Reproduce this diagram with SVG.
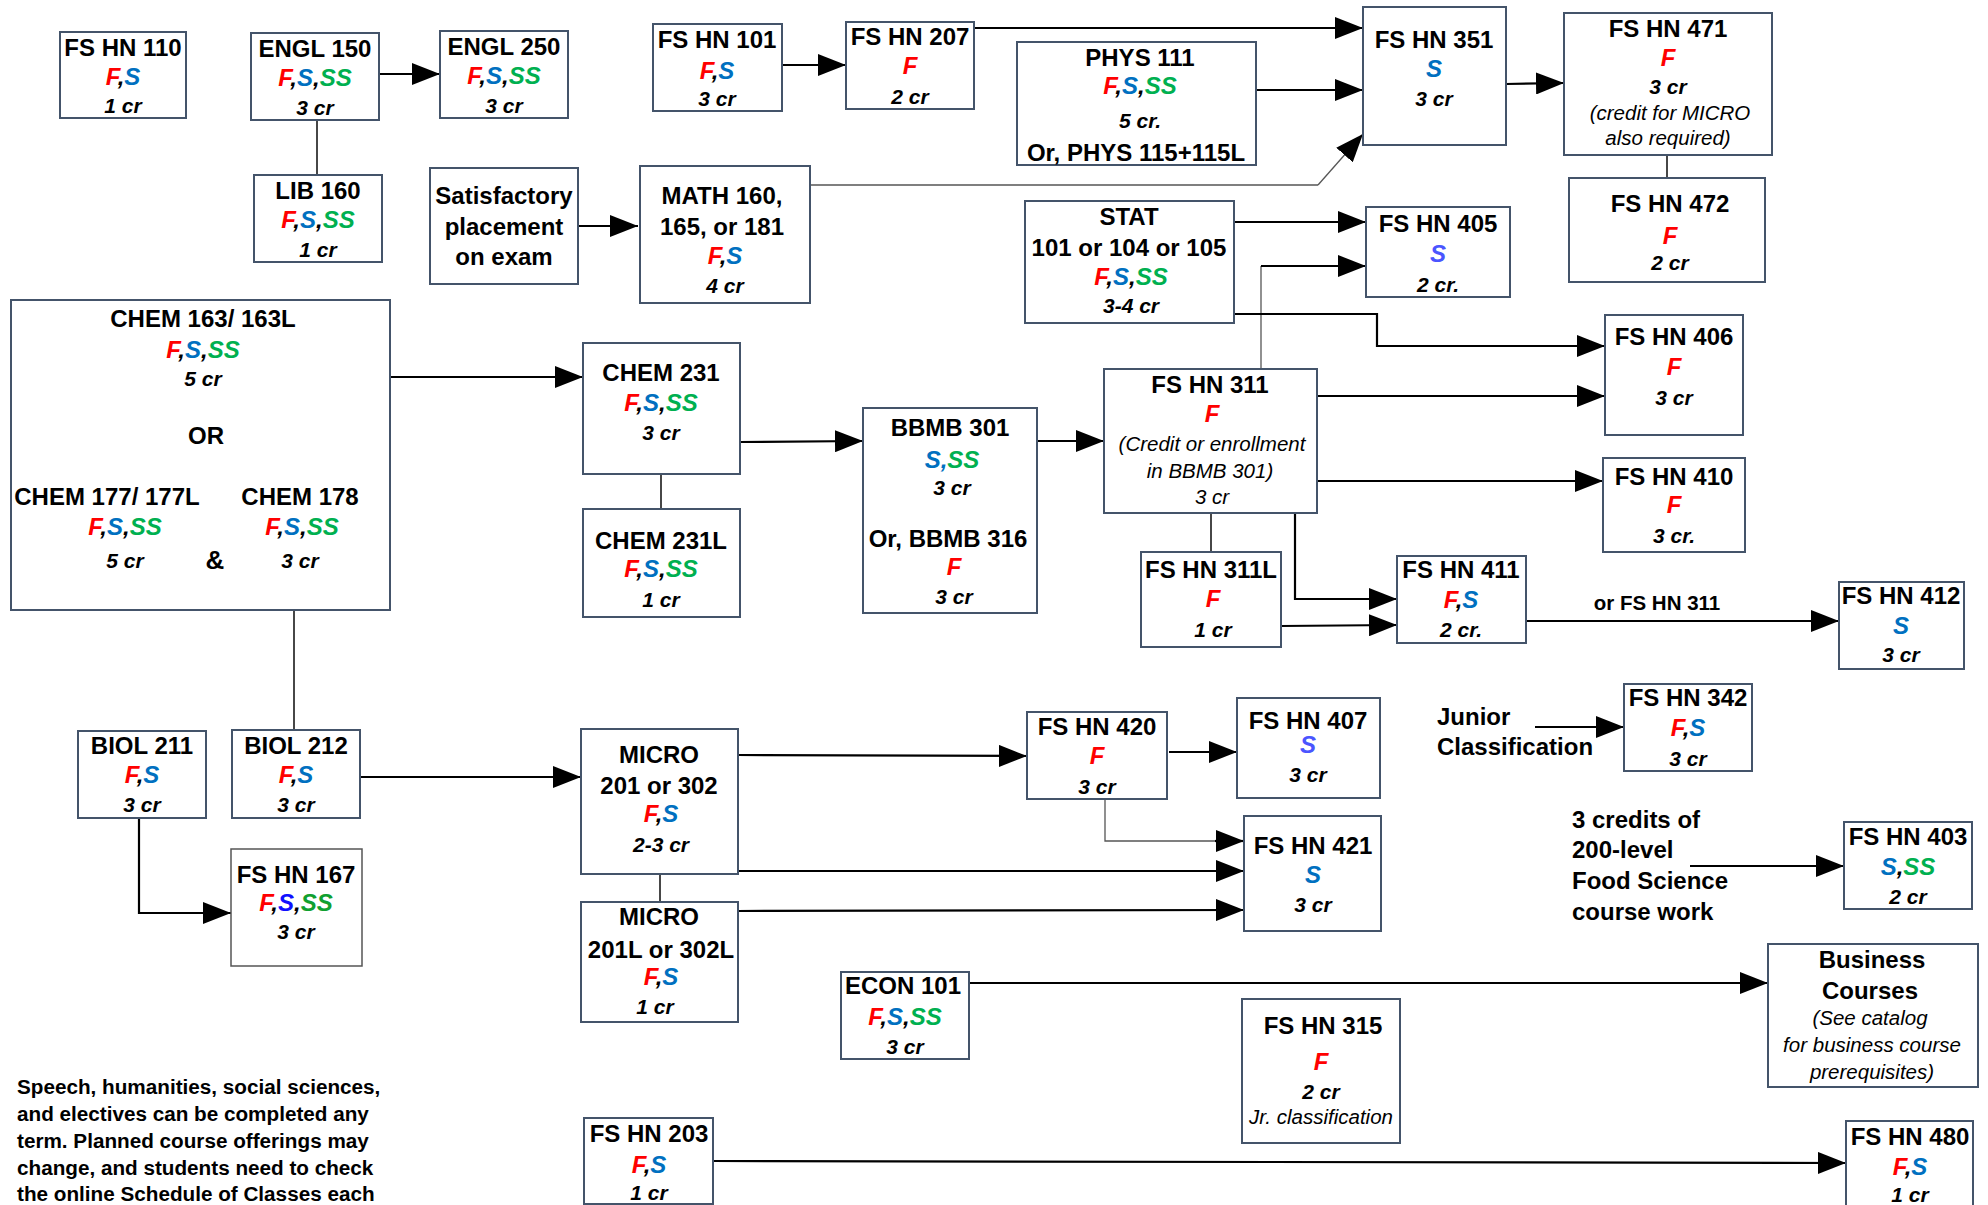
<svg xmlns="http://www.w3.org/2000/svg" width="1988" height="1205" viewBox="0 0 1988 1205">
<style>
.box{fill:#fff;stroke:#44546a;stroke-width:2}
text{font-family:"Liberation Sans",Arial,sans-serif;font-weight:bold;font-size:24px;text-anchor:middle;fill:#000}
.cr{font-style:italic;font-size:21px}
.sem{font-style:italic;font-size:24px}
.note{font-style:italic;font-weight:normal;font-size:20.5px}
.free{text-anchor:start}
.para{text-anchor:start;font-size:20.7px}
.F{fill:#ff0000}.S{fill:#0070c0}.SS{fill:#00b050}
.S2{fill:#1010ff}.SS2{fill:#10a030}.S3{fill:#4a55ff}
.c{stroke:#000;stroke-width:2.2;fill:none;marker-end:url(#ah)}
.thin{stroke:#555;stroke-width:1.3;fill:none}
.thinA{stroke:#555;stroke-width:1.3;fill:none;marker-end:url(#ah)}
.j{stroke:#333;stroke-width:1.8;fill:none}
</style>
<defs>
<marker id="ah" markerUnits="userSpaceOnUse" markerWidth="28" markerHeight="22" refX="28" refY="11" orient="auto">
<path d="M0,0 L28,11 L0,22 Z" fill="#000"/>
</marker>
</defs>
<rect width="1988" height="1205" fill="#fff"/>
<g id="connectors">
<path class="c" d="M379,74 L440,74"/>
<path class="j" d="M317,120 L317,175"/>
<path class="c" d="M782,65 L846,65"/>
<path class="c" d="M578,226 L638,226"/>
<path class="c" d="M974,28 L1363,28"/>
<path class="c" d="M1256,90 L1363,90"/>
<path class="thin" d="M810,185 L1318,185"/>
<path class="thinA" d="M1318,185 L1363,134"/>
<path class="c" d="M1506,84 L1564,83"/>
<path class="j" d="M1667,155 L1667,178"/>
<path class="c" d="M1234,222 L1366,222"/>
<path class="thin" d="M1261,369 L1261,266"/>
<path class="c" d="M1261,266 L1366,266"/>
<path class="c" d="M1234,314 L1377,314 L1377,346 L1605,346"/>
<path class="c" d="M1317,396 L1605,396"/>
<path class="c" d="M1317,481 L1603,481"/>
<path class="c" d="M1295,513 L1295,599 L1397,599"/>
<path class="c" d="M1281,626 L1397,625"/>
<path class="j" d="M1211,513 L1211,552"/>
<path class="c" d="M1526,621 L1839,621"/>
<text x="1657" y="610" style="font-size:20.5px">or FS HN 311</text>
<path class="c" d="M390,377 L583,377"/>
<path class="c" d="M740,442 L863,441"/>
<path class="j" d="M661,474 L661,509"/>
<path class="c" d="M1037,441 L1104,441"/>
<path class="j" d="M294,610 L294,730"/>
<path class="c" d="M360,777 L581,777"/>
<path class="c" d="M139,818 L139,913 L231,913"/>
<path class="c" d="M738,755 L1027,756"/>
<path class="c" d="M1169,752 L1237,752"/>
<path class="thin" d="M1105,797 L1105,841 L1220,841"/>
<path class="c" d="M1215,841 L1244,841"/>
<path class="c" d="M738,871 L1244,871"/>
<path class="c" d="M738,911 L1244,910"/>
<path class="j" d="M660,874 L660,902"/>
<path class="c" d="M969,983 L1768,983"/>
<path class="c" d="M1535,727 L1624,727"/>
<path class="c" d="M1690,866 L1844,866"/>
<path class="c" d="M713,1161 L1846,1163"/>
</g>
<g id="fshn110"><rect class="box" x="60" y="32" width="126" height="86"/>
<text x="123" y="56">FS HN 110</text>
<text class="sem" x="123" y="85"><tspan class="F">F</tspan>,<tspan class="S">S</tspan></text>
<text class="cr" x="123" y="113">1 cr</text></g>
<g id="engl150"><rect class="box" x="251" y="33" width="128" height="87"/>
<text x="315" y="57">ENGL  150</text>
<text class="sem" x="315" y="86"><tspan class="F">F</tspan>,<tspan class="S">S</tspan>,<tspan class="SS">SS</tspan></text>
<text class="cr" x="315" y="115">3 cr</text></g>
<g id="engl250"><rect class="box" x="440" y="31" width="128" height="87"/>
<text x="504" y="55">ENGL  250</text>
<text class="sem" x="504" y="84"><tspan class="F">F</tspan>,<tspan class="S">S</tspan>,<tspan class="SS">SS</tspan></text>
<text class="cr" x="504" y="113">3 cr</text></g>
<g id="lib160"><rect class="box" x="254" y="175" width="128" height="87"/>
<text x="318" y="199">LIB  160</text>
<text class="sem" x="318" y="228"><tspan class="F">F</tspan>,<tspan class="S">S</tspan>,<tspan class="SS">SS</tspan></text>
<text class="cr" x="318" y="257">1 cr</text></g>
<g id="placement"><rect class="box" x="430" y="168" width="148" height="116"/>
<text x="504" y="204">Satisfactory</text>
<text x="504" y="235">placement</text>
<text x="504" y="265">on exam</text></g>
<g id="fshn101"><rect class="box" x="653" y="24" width="129" height="87"/>
<text x="717" y="48">FS HN 101</text>
<text class="sem" x="717" y="79"><tspan class="F">F</tspan>,<tspan class="S">S</tspan></text>
<text class="cr" x="717" y="106">3 cr</text></g>
<g id="fshn207"><rect class="box" x="846" y="22" width="128" height="87"/>
<text x="910" y="45">FS HN 207</text>
<text class="sem" x="910" y="74"><tspan class="F">F</tspan></text>
<text class="cr" x="910" y="104">2 cr</text></g>
<g id="phys111"><rect class="box" x="1017" y="42" width="239" height="123"/>
<text x="1140" y="66">PHYS 111</text>
<text class="sem" x="1140" y="94"><tspan class="F">F</tspan>,<tspan class="S">S</tspan>,<tspan class="SS">SS</tspan></text>
<text class="cr" x="1140" y="128">5 cr.</text>
<text x="1136" y="161">Or, PHYS 115+115L</text></g>
<g id="math160"><rect class="box" x="640" y="166" width="170" height="137"/>
<text x="722" y="204">MATH 160,</text>
<text x="722" y="235">165, or 181</text>
<text class="sem" x="725" y="264"><tspan class="F">F</tspan>,<tspan class="S">S</tspan></text>
<text class="cr" x="725" y="293">4 cr</text></g>
<g id="stat"><rect class="box" x="1025" y="201" width="209" height="122"/>
<text x="1129" y="225">STAT</text>
<text x="1129" y="256">101 or 104 or 105</text>
<text class="sem" x="1131" y="285"><tspan class="F">F</tspan>,<tspan class="S">S</tspan>,<tspan class="SS">SS</tspan></text>
<text class="cr" x="1131" y="313">3-4 cr</text></g>
<g id="fshn351"><rect class="box" x="1363" y="7" width="143" height="138"/>
<text x="1434" y="48">FS HN 351</text>
<text class="sem" x="1434" y="77"><tspan class="S">S</tspan></text>
<text class="cr" x="1434" y="106">3 cr</text></g>
<g id="fshn471"><rect class="box" x="1564" y="13" width="208" height="142"/>
<text x="1668" y="37">FS HN 471</text>
<text class="sem" x="1668" y="66"><tspan class="F">F</tspan></text>
<text class="cr" x="1668" y="94">3 cr</text>
<text class="note" x="1670" y="120">(credit for MICRO</text>
<text class="note" x="1668" y="145">also required)</text></g>
<g id="fshn472"><rect class="box" x="1569" y="178" width="196" height="104"/>
<text x="1670" y="212">FS HN 472</text>
<text class="sem" x="1670" y="244"><tspan class="F">F</tspan></text>
<text class="cr" x="1670" y="270">2 cr</text></g>
<g id="fshn405"><rect class="box" x="1366" y="207" width="144" height="90"/>
<text x="1438" y="232">FS HN 405</text>
<text class="sem" x="1438" y="262"><tspan class="S3">S</tspan></text>
<text class="cr" x="1438" y="292">2 cr.</text></g>
<g id="chem163"><rect class="box" x="11" y="300" width="379" height="310"/>
<text x="203" y="327">CHEM 163/ 163L</text>
<text class="sem" x="203" y="358"><tspan class="F">F</tspan>,<tspan class="S">S</tspan>,<tspan class="SS">SS</tspan></text>
<text class="cr" x="203" y="386">5 cr</text>
<text x="206" y="444">OR</text>
<text x="107" y="505">CHEM 177/ 177L</text>
<text x="300" y="505">CHEM 178</text>
<text class="sem" x="125" y="535"><tspan class="F">F</tspan>,<tspan class="S">S</tspan>,<tspan class="SS">SS</tspan></text>
<text class="sem" x="302" y="535"><tspan class="F">F</tspan>,<tspan class="S">S</tspan>,<tspan class="SS">SS</tspan></text>
<text class="cr" x="125" y="568">5 cr</text>
<text x="215" y="569" style="font-size:26px">&amp;</text>
<text class="cr" x="300" y="568">3 cr</text></g>
<g id="chem231"><rect class="box" x="583" y="343" width="157" height="131"/>
<text x="661" y="381">CHEM 231</text>
<text class="sem" x="661" y="411"><tspan class="F">F</tspan>,<tspan class="S">S</tspan>,<tspan class="SS">SS</tspan></text>
<text class="cr" x="661" y="440">3 cr</text></g>
<g id="chem231l"><rect class="box" x="583" y="509" width="157" height="108"/>
<text x="661" y="549">CHEM  231L</text>
<text class="sem" x="661" y="577"><tspan class="F">F</tspan>,<tspan class="S">S</tspan>,<tspan class="SS">SS</tspan></text>
<text class="cr" x="661" y="607">1 cr</text></g>
<g id="bbmb301"><rect class="box" x="863" y="408" width="174" height="205"/>
<text x="950" y="436">BBMB  301</text>
<text class="sem" x="952" y="468"><tspan class="S">S,</tspan><tspan class="SS">SS</tspan></text>
<text class="cr" x="952" y="495">3 cr</text>
<text x="948" y="547">Or, BBMB 316</text>
<text class="sem" x="954" y="575"><tspan class="F">F</tspan></text>
<text class="cr" x="954" y="604">3 cr</text></g>
<g id="fshn311"><rect class="box" x="1104" y="369" width="213" height="144"/>
<text x="1210" y="393">FS HN 311</text>
<text class="sem" x="1212" y="422"><tspan class="F">F</tspan></text>
<text class="note" x="1212" y="451">(Credit or enrollment</text>
<text class="note" x="1210" y="478">in BBMB 301)</text>
<text class="note" x="1212" y="504">3 cr</text></g>
<g id="fshn311l"><rect class="box" x="1141" y="552" width="140" height="95"/>
<text x="1211" y="578">FS HN 311L</text>
<text class="sem" x="1213" y="607"><tspan class="F">F</tspan></text>
<text class="cr" x="1213" y="637">1 cr</text></g>
<g id="fshn406"><rect class="box" x="1605" y="315" width="138" height="120"/>
<text x="1674" y="345">FS HN 406</text>
<text class="sem" x="1674" y="375"><tspan class="F">F</tspan></text>
<text class="cr" x="1674" y="405">3 cr</text></g>
<g id="fshn410"><rect class="box" x="1603" y="458" width="142" height="94"/>
<text x="1674" y="485">FS HN 410</text>
<text class="sem" x="1674" y="513"><tspan class="F">F</tspan></text>
<text class="cr" x="1674" y="543">3 cr.</text></g>
<g id="fshn411"><rect class="box" x="1397" y="556" width="129" height="87"/>
<text x="1461" y="578">FS HN 411</text>
<text class="sem" x="1461" y="608"><tspan class="F">F</tspan>,<tspan class="S">S</tspan></text>
<text class="cr" x="1461" y="637">2 cr.</text></g>
<g id="fshn412"><rect class="box" x="1839" y="582" width="125" height="87"/>
<text x="1901" y="604">FS HN 412</text>
<text class="sem" x="1901" y="634"><tspan class="S">S</tspan></text>
<text class="cr" x="1901" y="662">3 cr</text></g>
<g id="biol211"><rect class="box" x="78" y="731" width="128" height="87"/>
<text x="142" y="754">BIOL  211</text>
<text class="sem" x="142" y="783"><tspan class="F">F</tspan>,<tspan class="S">S</tspan></text>
<text class="cr" x="142" y="812">3 cr</text></g>
<g id="biol212"><rect class="box" x="232" y="730" width="128" height="88"/>
<text x="296" y="754">BIOL  212</text>
<text class="sem" x="296" y="783"><tspan class="F">F</tspan>,<tspan class="S">S</tspan></text>
<text class="cr" x="296" y="812">3 cr</text></g>
<g id="fshn167"><rect class="box" x="231" y="849" width="131" height="117" style="stroke:#555;stroke-width:1.5"/>
<text x="296" y="883">FS HN 167</text>
<text class="sem" x="296" y="911"><tspan class="F">F</tspan>,<tspan class="S2">S</tspan>,<tspan class="SS2">SS</tspan></text>
<text class="cr" x="296" y="939">3 cr</text></g>
<g id="micro201"><rect class="box" x="581" y="729" width="157" height="145"/>
<text x="659" y="763">MICRO</text>
<text x="659" y="794">201 or 302</text>
<text class="sem" x="661" y="822"><tspan class="F">F</tspan>,<tspan class="S">S</tspan></text>
<text class="cr" x="661" y="852">2-3 cr</text></g>
<g id="micro201l"><rect class="box" x="581" y="902" width="157" height="120"/>
<text x="659" y="925">MICRO</text>
<text x="661" y="958">201L or 302L</text>
<text class="sem" x="661" y="985"><tspan class="F">F</tspan>,<tspan class="S">S</tspan></text>
<text class="cr" x="655" y="1014">1 cr</text></g>
<g id="fshn420"><rect class="box" x="1027" y="712" width="140" height="87"/>
<text x="1097" y="735">FS HN 420</text>
<text class="sem" x="1097" y="764"><tspan class="F">F</tspan></text>
<text class="cr" x="1097" y="794">3 cr</text></g>
<g id="fshn407"><rect class="box" x="1237" y="698" width="143" height="100"/>
<text x="1308" y="729">FS HN 407</text>
<text class="sem" x="1308" y="753"><tspan class="S3">S</tspan></text>
<text class="cr" x="1308" y="782">3 cr</text></g>
<g id="fshn421"><rect class="box" x="1244" y="816" width="137" height="115"/>
<text x="1313" y="854">FS HN 421</text>
<text class="sem" x="1313" y="883"><tspan class="S">S</tspan></text>
<text class="cr" x="1313" y="912">3 cr</text></g>
<g id="econ101"><rect class="box" x="841" y="972" width="128" height="87"/>
<text x="903" y="994">ECON 101</text>
<text class="sem" x="905" y="1025"><tspan class="F">F</tspan>,<tspan class="S">S</tspan>,<tspan class="SS">SS</tspan></text>
<text class="cr" x="905" y="1054">3 cr</text></g>
<g id="fshn315"><rect class="box" x="1242" y="999" width="158" height="144"/>
<text x="1323" y="1034">FS HN 315</text>
<text class="sem" x="1321" y="1070"><tspan class="F">F</tspan></text>
<text class="cr" x="1321" y="1099">2 cr</text>
<text class="note" x="1321" y="1124">Jr. classification</text></g>
<g id="junior"><text class="free" x="1437" y="725">Junior</text>
<text class="free" x="1437" y="755">Classification</text></g>
<g id="fshn342"><rect class="box" x="1624" y="684" width="128" height="87"/>
<text x="1688" y="706">FS HN 342</text>
<text class="sem" x="1688" y="736"><tspan class="F">F</tspan>,<tspan class="S">S</tspan></text>
<text class="cr" x="1688" y="766">3 cr</text></g>
<g id="credits200"><text class="free" x="1572" y="828">3 credits of</text>
<text class="free" x="1572" y="858">200-level</text>
<text class="free" x="1572" y="889">Food Science</text>
<text class="free" x="1572" y="920">course work</text></g>
<g id="fshn403"><rect class="box" x="1844" y="822" width="128" height="87"/>
<text x="1908" y="845">FS HN 403</text>
<text class="sem" x="1908" y="875"><tspan class="S">S</tspan>,<tspan class="SS">SS</tspan></text>
<text class="cr" x="1908" y="904">2 cr</text></g>
<g id="business"><rect class="box" x="1768" y="944" width="210" height="143"/>
<text x="1872" y="968">Business</text>
<text x="1870" y="999">Courses</text>
<text class="note" x="1870" y="1025">(See catalog</text>
<text class="note" x="1872" y="1052">for business course</text>
<text class="note" x="1872" y="1079">prerequisites)</text></g>
<g id="fshn203"><rect class="box" x="584" y="1118" width="129" height="86"/>
<text x="649" y="1142">FS HN 203</text>
<text class="sem" x="649" y="1173"><tspan class="F">F</tspan>,<tspan class="S">S</tspan></text>
<text class="cr" x="649" y="1200">1 cr</text></g>
<g id="fshn480"><rect class="box" x="1846" y="1121" width="127" height="92"/>
<text x="1910" y="1145">FS HN 480</text>
<text class="sem" x="1910" y="1175"><tspan class="F">F</tspan>,<tspan class="S">S</tspan></text>
<text class="cr" x="1910" y="1202">1 cr</text></g>
<g id="note">
<text class="para" x="17" y="1094">Speech, humanities, social sciences,</text>
<text class="para" x="17" y="1121">and electives can be completed any</text>
<text class="para" x="17" y="1148">term. Planned course offerings may</text>
<text class="para" x="17" y="1175">change, and students need to check</text>
<text class="para" x="17" y="1201">the online Schedule of Classes each</text>
</g>
</svg>
